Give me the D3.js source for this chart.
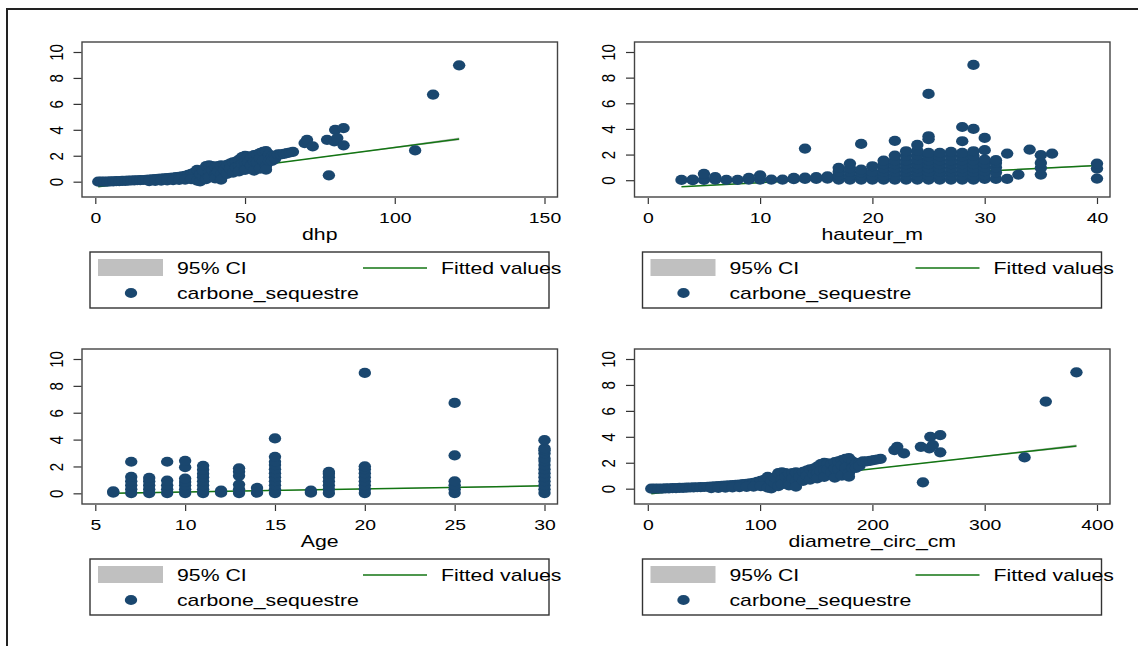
<!DOCTYPE html>
<html>
<head>
<meta charset="utf-8">
<script src="https://cdnjs.cloudflare.com/ajax/libs/d3/7.8.5/d3.min.js"></script>
<style>
  body { margin: 0; background: #fff; }
  text { font-family: "Liberation Sans", Arial, sans-serif; fill: #000; }
</style>
</head>
<body>
<div class="chart"></div>
<script>
// Data
// ==============================
var yTicks = [0, 2, 4, 6, 8, 10];
var legendLabels = ["95% CI", "Fitted values", "carbone_sequestre"];

var dhpTicks = [0, 50, 100, 150];
var hauteurTicks = [0, 10, 20, 30, 40];
var ageTicks = [5, 10, 15, 20, 25, 30];
var circTicks = [0, 100, 200, 300, 400];

// [x, carbone_sequestre]
var dhpPts = [
  [1,0],[2,0],[3,0],[4,0.01],[5,0.02],[6,0.03],[7,0.04],[8,0.05],[9,0.06],[10,0.07],[11,0.08],[12,0.09],
  [13,0.1],[14,0.11],[15,0.12],[16,0.13],[17,0.15],[18,0.16],[19,0.18],[20,0.2],[21,0.22],[22,0.24],
  [23,0.26],[24,0.28],[25,0.3],[26,0.32],[27,0.35],[28,0.38],[29,0.42],[30,0.45],[31,0.52],[32,0.6],[33,0.7],
  [18,0.04],[20,0.06],[22,0.08],[24,0.1],[26,0.12],[28,0.14],[30,0.16],[32,0.2],[34,0.08],[35,0.02],
  [34,0.92],[35,0.6],[36,0.4],[36,0.85],[37,1.2],[37,0.2],[38,1.25],[38,0.7],[38,0.35],[39,1.2],[39,0.9],
  [40,1.15],[40,0.5],[40,0.25],[41,1.2],[41,0.8],[42,1.25],[42,0.55],[42,0.15],[43,1.2],[43,0.9],[44,1.3],
  [44,0.6],[45,1.4],[45,1.0],[46,1.5],[46,0.7],[47,1.55],[47,1.1],[48,1.7],[48,1.2],[48,0.8],[49,1.9],
  [49,1.35],[50,2.0],[50,1.45],[50,0.9],[51,1.95],[51,1.5],[52,1.9],[52,1.25],[53,2.05],[53,0.85],[53,1.55],
  [54,2.1],[54,1.5],[55,2.2],[55,1.8],[55,1.0],[56,2.3],[56,1.6],[57,2.35],[57,1.2],[57,0.92],[58,2.1],
  [58,1.6],[59,1.95],[59,1.6],[60,2.0],[60,1.75],[61,2.1],[62,2.1],[63,2.15],[64,2.2],[65,2.25],[66,2.3],
  [69.9,2.98],[70.7,3.23],[72.6,2.72],[77.4,3.23],[78,0.49],[79.8,3.1],[80.1,4.0],[80.8,3.36],[82.9,4.13],
  [82.9,2.8],[106.8,2.41],[112.8,6.72],[121.5,8.97]
];

var hauteurPts = [
  [3,0.02],[4,0],[4,0.05],[5,0.02],[5,0.5],[6,0.05],[6,0.25],[7,0.02],[8,0.03],[9,0.05],[9,0.18],[10,0.05],
  [10,0.38],[11,0.05],[12,0.05],[13,0.08],[13,0.18],[14,0.1],[14,0.2],[14,2.47],[15,0.1],[15,0.25],[16,0.12],[16,0.3],
  [17,0.05],[17,0.35],[17,0.65],[17,0.97],
  [18,0.05],[18,0.35],[18,0.65],[18,0.95],[18,1.3],
  [19,0.05],[19,0.35],[19,0.6],[19,0.83],[19,2.83],
  [20,0.05],[20,0.35],[20,0.65],[20,1.09],
  [21,0.05],[21,0.35],[21,0.65],[21,0.95],[21,1.25],[21,1.53],
  [22,0.05],[22,0.35],[22,0.65],[22,0.95],[22,1.25],[22,1.55],[22,1.92],[22,3.07],
  [23,0.05],[23,0.35],[23,0.65],[23,0.95],[23,1.25],[23,1.55],[23,1.9],[23,2.26],
  [24,0.05],[24,0.35],[24,0.65],[24,0.95],[24,1.25],[24,1.6],[24,1.95],[24,2.3],[24,2.75],
  [25,0.05],[25,0.35],[25,0.65],[25,0.95],[25,1.25],[25,1.55],[25,1.85],[25,2.13],[25,3.2],[25,3.43],[25,6.73],
  [26,0.05],[26,0.35],[26,0.65],[26,0.95],[26,1.25],[26,1.55],[26,1.85],[26,2.13],
  [27,0.05],[27,0.35],[27,0.65],[27,0.95],[27,1.25],[27,1.55],[27,1.9],[27,2.21],
  [28,0.05],[28,0.35],[28,0.65],[28,0.95],[28,1.25],[28,1.55],[28,1.85],[28,2.13],[28,3.04],[28,4.15],
  [29,0.05],[29,0.35],[29,0.65],[29,0.95],[29,1.25],[29,1.55],[29,1.9],[29,2.26],[29,4.0],[29,8.99],
  [30,0.1],[30,0.4],[30,0.7],[30,1.0],[30,1.3],[30,1.6],[30,2.34],[30,3.3],
  [31,0.1],[31,0.6],[31,1.0],[31,1.35],[31,1.56],
  [32,0.1],[32,2.08],[33,0.44],[34,2.39],
  [35,0.44],[35,0.96],[35,1.35],[35,1.95],[36,2.08],
  [40,0.13],[40,0.91],[40,1.3]
];

var agePts = [
  [6,0.05],[6,0.15],
  [7,0.02],[7,0.3],[7,0.6],[7,0.9],[7,1.22],[7,2.35],
  [8,0.02],[8,0.3],[8,0.6],[8,0.9],[8,1.15],
  [9,0.02],[9,0.3],[9,0.6],[9,0.95],[9,2.35],
  [10,0.02],[10,0.3],[10,0.6],[10,0.85],[10,1.1],[10,1.95],[10,2.42],
  [11,0.02],[11,0.3],[11,0.6],[11,0.9],[11,1.2],[11,1.45],[11,1.75],[11,2.05],
  [12,0.05],[12,0.2],
  [13,0.02],[13,0.3],[13,0.65],[13,1.3],[13,1.6],[13,1.86],
  [14,0.05],[14,0.4],
  [15,0.02],[15,0.3],[15,0.6],[15,0.9],[15,1.2],[15,1.5],[15,1.8],[15,2.1],[15,2.35],[15,2.72],[15,4.09],
  [17,0.05],[17,0.2],
  [18,0.02],[18,0.3],[18,0.6],[18,0.9],[18,1.2],[18,1.45],[18,1.6],
  [20,0.02],[20,0.3],[20,0.6],[20,0.9],[20,1.2],[20,1.5],[20,1.8],[20,2.01],[20,8.96],
  [25,0.02],[25,0.3],[25,0.6],[25,0.9],[25,2.82],[25,6.73],
  [30,0.02],[30,0.3],[30,0.6],[30,0.9],[30,1.2],[30,1.5],[30,1.8],[30,2.1],[30,2.4],[30,2.6],[30,2.97],
  [30,3.2],[30,3.34],[30,3.96]
];

var circPts = [
  [3.1,0],[6.3,0],[9.4,0],[12.6,0.01],[15.7,0.02],[18.8,0.03],[22,0.04],[25.1,0.05],[28.3,0.06],[31.4,0.07],
  [34.6,0.08],[37.7,0.09],[40.8,0.1],[44,0.11],[47.1,0.12],[50.3,0.13],[53.4,0.15],[56.5,0.16],[59.7,0.18],
  [62.8,0.2],[66,0.22],[69.1,0.24],[72.3,0.26],[75.4,0.28],[78.5,0.3],[81.7,0.32],[84.8,0.35],[88,0.38],
  [91.1,0.42],[94.2,0.45],[97.4,0.52],[100.5,0.6],[103.7,0.7],
  [56.5,0.04],[62.8,0.06],[69.1,0.08],[75.4,0.1],[81.7,0.12],[88,0.14],[94.2,0.16],[100.5,0.2],[106.8,0.08],[110,0.02],
  [106.8,0.92],[110,0.6],[113.1,0.4],[113.1,0.85],[116.2,1.2],[116.2,0.2],[119.4,1.25],[119.4,0.7],[119.4,0.35],
  [122.5,1.2],[122.5,0.9],[125.7,1.15],[125.7,0.5],[125.7,0.25],[128.8,1.2],[128.8,0.8],[131.9,1.25],[131.9,0.55],
  [131.9,0.15],[135.1,1.2],[135.1,0.9],[138.2,1.3],[138.2,0.6],[141.4,1.4],[141.4,1.0],[144.5,1.5],[144.5,0.7],
  [147.7,1.55],[147.7,1.1],[150.8,1.7],[150.8,1.2],[150.8,0.8],[153.9,1.9],[153.9,1.35],[157.1,2.0],[157.1,1.45],
  [157.1,0.9],[160.2,1.95],[160.2,1.5],[163.4,1.9],[163.4,1.25],[166.5,2.05],[166.5,0.85],[166.5,1.55],
  [169.6,2.1],[169.6,1.5],[172.8,2.2],[172.8,1.8],[172.8,1.0],[175.9,2.3],[175.9,1.6],[179.1,2.35],[179.1,1.2],
  [179.1,0.92],[182.2,2.1],[182.2,1.6],[185.4,1.95],[185.4,1.6],[188.5,2.0],[188.5,1.75],[191.6,2.1],[194.8,2.1],
  [197.9,2.15],[201.1,2.2],[204.2,2.25],[207.3,2.3],
  [219.6,2.98],[222.1,3.23],[228.1,2.72],[243.2,3.23],[245,0.49],[250.7,3.1],[251.6,4.0],[253.8,3.36],
  [260.4,4.13],[260.4,2.8],[335.5,2.41],[354.4,6.72],[381.7,8.97]
];

// fitted line end points [x, y]
var fitDhp = [[1, -0.39], [121.5, 3.3]];
var fitHauteur = [[3, -0.51], [40, 1.15]];
var fitAge = [[6, 0.0], [30, 0.56]];
var fitCirc = [[3.1, -0.39], [381.7, 3.3]];

// 95% CI [x, low, high]
var ciDhp = [[1, -0.41, -0.35], [30, 0.48, 0.52], [60, 1.4, 1.44], [90, 2.29, 2.37], [121.5, 3.2, 3.4]];
var ciHauteur = [[3, -0.53, -0.47], [20, 0.22, 0.29], [40, 1.09, 1.21]];
var ciAge = [[6, -0.05, 0.05], [18, 0.26, 0.3], [30, 0.51, 0.61]];
var ciCirc = [[3.1, -0.41, -0.35], [94.2, 0.48, 0.52], [188.5, 1.4, 1.44], [282.7, 2.29, 2.37], [381.7, 3.2, 3.4]];

// Layout
// ==============================
var svgWidth = 1138;
var svgHeight = 646;
var stretch = 1.25;           // the picture is widened horizontally
var navy = "#1a476f";
var green = "#137513";

var box = { left: 82, right: 557.5, top: 42, bottom: 197 };
var inner = { left: 95.3, right: 544.5, top: 52, bottom: 187 };

var svg = d3.select(".chart")
  .append("svg")
  .attr("width", svgWidth)
  .attr("height", svgHeight);

// outer frame (only top and left edges show)
svg.append("path")
  .attr("d", `M7,${svgHeight} V9 H${svgWidth}`)
  .attr("fill", "none")
  .attr("stroke", "#222")
  .attr("stroke-width", 2);

function stretchText(g, x, y, str, size, anchor) {
  g.append("g")
    .attr("transform", `translate(${x},${y})`)
    .append("text")
    .attr("transform", `scale(${stretch},1)`)
    .attr("text-anchor", anchor || "start")
    .style("font-size", size + "px")
    .text(str);
}

function drawPanel(p) {
  var g = svg.append("g").attr("transform", `translate(${p.dx},${p.dy})`);

  var x = d3.scaleLinear().domain(p.xDomain).range([inner.left, inner.right]);
  var yMin = Math.min(0, d3.min(p.ci, d => d[1]));
  var y = d3.scaleLinear().domain([yMin, 10]).range([inner.bottom, inner.top]);

  // CI band
  g.append("path")
    .datum(p.ci)
    .attr("d", d3.area().x(d => x(d[0])).y0(d => y(d[1])).y1(d => y(d[2])))
    .attr("fill", "#c0c0c0");

  // fitted values
  g.append("path")
    .datum(p.fit)
    .attr("d", d3.line().x(d => x(d[0])).y(d => y(d[1])))
    .attr("fill", "none")
    .attr("stroke", green)
    .attr("stroke-width", 1.5);

  // scatter
  g.selectAll("ellipse.pt")
    .data(p.pts)
    .enter()
    .append("ellipse")
    .attr("class", "pt")
    .attr("cx", d => x(d[0]))
    .attr("cy", d => y(d[1]))
    .attr("rx", 6.2)
    .attr("ry", 5.1)
    .attr("fill", navy);

  // plot box
  g.append("rect")
    .attr("x", box.left)
    .attr("y", box.top)
    .attr("width", box.right - box.left)
    .attr("height", box.bottom - box.top)
    .attr("fill", "none")
    .attr("stroke", "#444")
    .attr("stroke-width", 1.4);

  // axes
  var bottomAxis = d3.axisBottom(x).tickValues(p.xTicks).tickSize(6).tickSizeOuter(0);
  var xg = g.append("g")
    .attr("transform", `translate(0,${box.bottom + 1})`)
    .attr("font-size", null)
    .attr("font-family", null)
    .attr("color", "#333")
    .call(bottomAxis);
  xg.select(".domain").remove();
  xg.selectAll("line").attr("stroke-width", 1.2);
  xg.selectAll("text")
    .attr("y", 25)
    .attr("dy", null)
    .attr("transform", `scale(${stretch},1)`)
    .style("font-size", "15.5px")
    .style("fill", "#000");

  var leftAxis = d3.axisLeft(y).tickValues(yTicks).tickSize(8).tickSizeOuter(0);
  var yg = g.append("g")
    .attr("transform", `translate(${box.left - 0.5},0)`)
    .attr("font-size", null)
    .attr("font-family", null)
    .attr("color", "#333")
    .call(leftAxis);
  yg.select(".domain").remove();
  yg.selectAll("line").attr("stroke-width", 1.2);
  yg.selectAll("text")
    .attr("x", null)
    .attr("dy", null)
    .attr("text-anchor", "middle")
    .attr("transform", `translate(-19,0) scale(${stretch},1) rotate(-90)`)
    .style("font-size", "15px")
    .style("fill", "#000");

  // axis title
  stretchText(g, (box.left + box.right) / 2, 239.5, p.title, 17, "middle");

  // legend
  g.append("rect")
    .attr("x", 90).attr("y", 252)
    .attr("width", 459).attr("height", 56)
    .attr("fill", "none")
    .attr("stroke", "#333")
    .attr("stroke-width", 1.4);
  g.append("rect")
    .attr("x", 98).attr("y", 259)
    .attr("width", 65).attr("height", 17)
    .attr("fill", "#c0c0c0");
  stretchText(g, 177, 274, legendLabels[0], 17);
  g.append("line")
    .attr("x1", 363).attr("x2", 427)
    .attr("y1", 268).attr("y2", 268)
    .attr("stroke", green)
    .attr("stroke-width", 1.5);
  stretchText(g, 441, 274, legendLabels[1], 17);
  g.append("ellipse")
    .attr("cx", 131).attr("cy", 293)
    .attr("rx", 6.2).attr("ry", 5.1)
    .attr("fill", navy);
  stretchText(g, 177, 299, legendLabels[2], 17);
}

drawPanel({ dx: 0, dy: 0, pts: dhpPts, fit: fitDhp, ci: ciDhp, xDomain: [0, 150], xTicks: dhpTicks, title: "dhp" });
drawPanel({ dx: 552.5, dy: 0, pts: hauteurPts, fit: fitHauteur, ci: ciHauteur, xDomain: [0, 40], xTicks: hauteurTicks, title: "hauteur_m" });
drawPanel({ dx: 0, dy: 307, pts: agePts, fit: fitAge, ci: ciAge, xDomain: [5, 30], xTicks: ageTicks, title: "Age" });
drawPanel({ dx: 552.5, dy: 307, pts: circPts, fit: fitCirc, ci: ciCirc, xDomain: [0, 400], xTicks: circTicks, title: "diametre_circ_cm" });
</script>
</body>
</html>
